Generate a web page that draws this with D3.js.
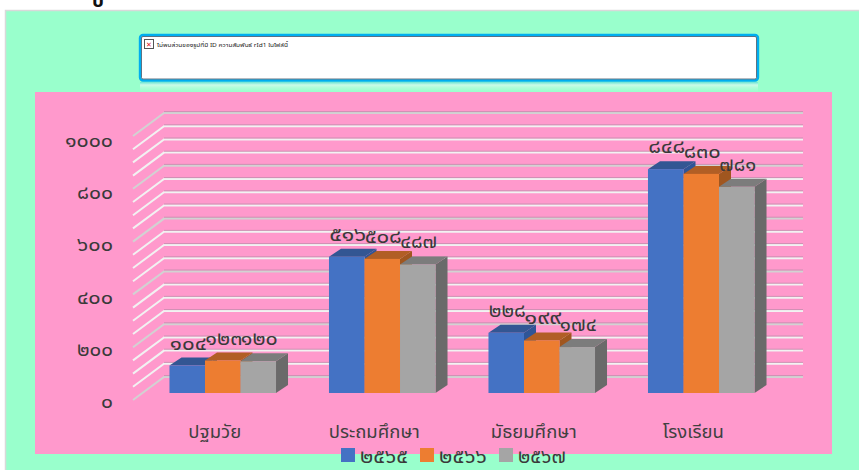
<!DOCTYPE html>
<html><head><meta charset="utf-8">
<script src="https://cdnjs.cloudflare.com/ajax/libs/d3/7.8.5/d3.min.js"></script>
<style>html,body{margin:0;padding:0;background:#fff;overflow:hidden}svg{display:block}
text{font-family:"Noto Sans Thai","Noto Sans","DejaVu Sans",sans-serif}</style></head><body>
<svg id="c" width="859" height="470"></svg>
<script>
const categories=["ปฐมวัย","ประถมศึกษา","มัธยมศึกษา","โรงเรียน"];
const seriesNames=["๒๕๖๕","๒๕๖๖","๒๕๖๗"];
const values2565=[104,516,228,848];
const values2566=[123,508,199,830];
const values2567=[120,487,174,781];
const valueLabels2565=["๑๐๔","๕๑๖","๒๒๘","๘๔๘"];
const valueLabels2566=["๑๒๓","๕๐๘","๑๙๙","๘๓๐"];
const valueLabels2567=["๑๒๐","๔๘๗","๑๗๔","๗๘๑"];
const tickValues=[0,200,400,600,800,1000];
const tickLabels=["๐","๒๐๐","๔๐๐","๖๐๐","๘๐๐","๑๐๐๐"];
const errorText="ไม่พบส่วนของรูปที่มี ID ความสัมพันธ์ rId1 ในไฟล์นี้";
const topGlyph="บ";
const series=[
 {name:seriesNames[0],vals:values2565,labs:valueLabels2565,front:"#4472C4",top:"#335693",side:"#2F5597"},
 {name:seriesNames[1],vals:values2566,labs:valueLabels2566,front:"#ED7D31",top:"#B15E25",side:"#A0561F"},
 {name:seriesNames[2],vals:values2567,labs:valueLabels2567,front:"#A5A5A5",top:"#7C7C7C",side:"#6A6A6A"}];
const svg=d3.select("#c");
const defs=svg.append("defs");
const grad=defs.append("linearGradient").attr("id","refl").attr("x1",0).attr("y1",0).attr("x2",0).attr("y2",1);
grad.append("stop").attr("offset",0).attr("stop-color","#5fdcd8").attr("stop-opacity",.8);
grad.append("stop").attr("offset",.25).attr("stop-color","#d8fbee").attr("stop-opacity",.8);
grad.append("stop").attr("offset",1).attr("stop-color","#99FFCC").attr("stop-opacity",0);
function digits(sel,perDigit){
 return sel.each(function(){
  const t=d3.select(this),n=t.text().length;
  t.attr("textLength",n*perDigit).attr("lengthAdjust","spacingAndGlyphs");
 });
}
// page
svg.append("rect").attr("x",5.5).attr("y",10.5).attr("width",855).attr("height",461).attr("fill","#99FFCC").attr("stroke","#D9D9D9").attr("stroke-width",1.5);
svg.append("text").text(topGlyph).attr("x",92).attr("y",7).attr("font-size",19).attr("font-weight",700).attr("fill","#111");
// reflection
svg.append("rect").attr("x",140).attr("y",82).attr("width",618).attr("height",12).attr("fill","url(#refl)");
// error picture
svg.append("rect").attr("x",140).attr("y",35).attr("width",618).attr("height",45.5).attr("rx",3).attr("fill","#fff").attr("stroke","#00AEEF").attr("stroke-width",2.4);
svg.append("rect").attr("x",141.5).attr("y",36.5).attr("width",615).attr("height",42.5).attr("rx",1.5).attr("fill","none").attr("stroke","#2c3e50").attr("stroke-width",.7);
svg.append("rect").attr("x",144.5).attr("y",39.5).attr("width",9).attr("height",9).attr("fill","#fff").attr("stroke","#555");
svg.append("text").text("✕").attr("x",149).attr("y",47).attr("text-anchor","middle").attr("font-size",7).attr("font-weight",700).attr("fill","#e01020");
svg.append("text").text(errorText).attr("x",157).attr("y",47).attr("font-size",6).attr("fill","#222").attr("textLength",131).attr("lengthAdjust","spacingAndGlyphs");
// panel
svg.append("rect").attr("x",35).attr("y",92).attr("width",797).attr("height",362).attr("fill","#FF99CC");
const dx=12,dy=-8;
const y=d3.scaleLinear().domain([0,1000]).range([393,129]);
const yLabel=d3.scaleLinear().domain([0,1000]).range([401,140]);
const x0=d3.scaleBand().domain(categories).range([143,781]).paddingInner(.332).paddingOuter(.166);
const x1=d3.scaleBand().domain(seriesNames).range([0,x0.bandwidth()]);
// gridlines: every 50
const gridVals=d3.range(0,1001,50);
const g=svg.append("g");
gridVals.forEach(v=>{
 const major=v%200===0;
 const yy=y(v)+7;
 const col=major?"#D2D2D2":"#F2F2F2";
 g.append("path").attr("d",d3.line()([[133,yy],[164,yy-23],[803,yy-23]])).attr("fill","none").attr("stroke",col).attr("stroke-width",2);
 g.append("path").attr("d",d3.line()([[164,yy-24.4],[803,yy-24.4]])).attr("fill","none").attr("stroke","#B98CA8").attr("stroke-width",.7);
});
// axis labels
tickValues.forEach((v,i)=>digits(svg.append("text").text(tickLabels[i]).attr("x",113).attr("y",yLabel(v)).attr("dy","0.35em").attr("text-anchor","end").attr("font-size",20).attr("fill","#3a3a3a"),12));
// bars
categories.forEach((c,ci)=>{
 series.forEach(s=>{
  const v=s.vals[ci],bx=x0(c)+x1(s.name),w=x1.bandwidth(),ty=y(v),by=y(0);
  const gg=svg.append("g");
  gg.append("path").attr("d",`M${bx+w},${ty}L${bx+w+dx},${ty+dy}L${bx+w+dx},${by+dy}L${bx+w},${by}Z`).attr("fill",s.side);
  gg.append("path").attr("d",`M${bx},${ty}L${bx+dx},${ty+dy}L${bx+w+dx},${ty+dy}L${bx+w},${ty}Z`).attr("fill",s.top);
  gg.append("rect").attr("x",bx).attr("y",ty).attr("width",w).attr("height",by-ty).attr("fill",s.front);
 });
});
categories.forEach((c,ci)=>{
 series.forEach(s=>{
  const bx=x0(c)+x1(s.name),w=x1.bandwidth();
  digits(svg.append("text").text(s.labs[ci]).attr("x",bx+w/2+1).attr("y",y(s.vals[ci])-23).attr("dy","0.35em").attr("text-anchor","middle").attr("font-size",20).attr("fill","#3a3a3a"),12.3);
 });
 svg.append("text").text(c).attr("x",x0(c)+x0.bandwidth()/2-8).attr("y",432).attr("dy","0.35em").attr("text-anchor","middle").attr("font-size",18.5).attr("fill","#404040");
});
// legend
const legendX=[341,420,499];
series.forEach((s,i)=>{
 svg.append("rect").attr("x",legendX[i]).attr("y",448).attr("width",14).attr("height",14).attr("fill",s.front);
 digits(svg.append("text").text(s.name).attr("x",legendX[i]+19).attr("y",456).attr("dy","0.35em").attr("font-size",20).attr("fill","#3a3a3a"),12);
});
</script></body></html>
